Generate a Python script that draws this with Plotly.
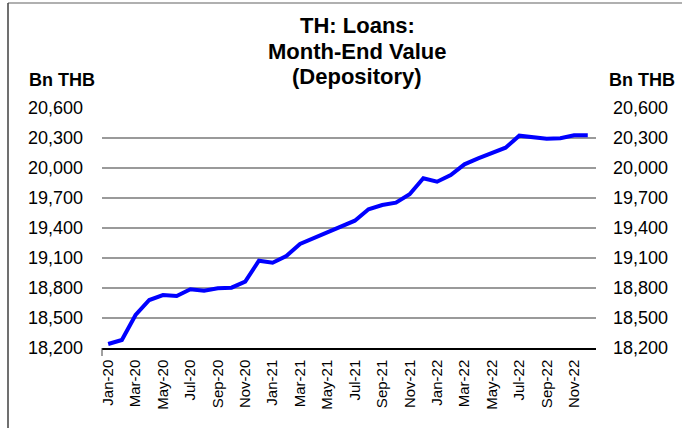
import plotly.graph_objects as go

months = ["Jan-20","Feb-20","Mar-20","Apr-20","May-20","Jun-20","Jul-20","Aug-20","Sep-20","Oct-20","Nov-20","Dec-20",
          "Jan-21","Feb-21","Mar-21","Apr-21","May-21","Jun-21","Jul-21","Aug-21","Sep-21","Oct-21","Nov-21","Dec-21",
          "Jan-22","Feb-22","Mar-22","Apr-22","May-22","Jun-22","Jul-22","Aug-22","Sep-22","Oct-22","Nov-22","Dec-22"]
loans = [18240, 18280, 18530, 18680, 18730, 18720, 18787, 18773, 18797, 18803, 18863, 19073,
         19053, 19120, 19240, 19297, 19363, 19420, 19473, 19587, 19630, 19653, 19737, 19897,
         19863, 19930, 20037, 20097, 20153, 20203, 20323, 20310, 20293, 20297, 20327, 20327]
y_ticks = [18200, 18500, 18800, 19100, 19400, 19700, 20000, 20300, 20600]
y_ticktext = [f"{v:,}" for v in y_ticks]
x_ticks = months[::2]
title_lines = ["TH: Loans:", "Month-End Value", "(Depository)"]
unit_label = "Bn THB"

font = "Liberation Sans, Arial, sans-serif"

W, H = 682, 428
L, R, T, B = 102, 86, 108, 80
PW, PH = W - L - R, H - T - B


def px(x):
    return (x - L) / PW


def py(y):
    return 1 - (y - T) / PH


fig = go.Figure()
fig.add_trace(go.Scatter(x=months, y=loans, mode="lines",
                         line=dict(color="#0000FF", width=4), showlegend=False,
                         hoverinfo="x+y"))
fig.add_trace(go.Scatter(x=months, y=loans, mode="lines", yaxis="y2",
                         line=dict(color="rgba(0,0,0,0)", width=0), showlegend=False,
                         hoverinfo="skip"))

annotations = []
for line, yc in zip(title_lines, [26, 52, 76]):
    annotations.append(dict(text=f"<b>{line}</b>", xref="paper", yref="paper",
                            x=px(357), y=py(yc), xanchor="center", yanchor="middle",
                            showarrow=False, font=dict(size=22, family=font)))
annotations.append(dict(text=f"<b>{unit_label}</b>", xref="paper", yref="paper",
                        x=px(62), y=py(80), xanchor="center", yanchor="middle",
                        showarrow=False, font=dict(size=18, family=font)))
annotations.append(dict(text=f"<b>{unit_label}</b>", xref="paper", yref="paper",
                        x=px(642), y=py(80), xanchor="center", yanchor="middle",
                        showarrow=False, font=dict(size=18, family=font)))

fig.update_layout(
    width=W, height=H,
    margin=dict(l=L, r=R, t=T, b=B, autoexpand=False),
    paper_bgcolor="white", plot_bgcolor="white",
    font=dict(family=font, color="black", size=18),
    xaxis=dict(type="category", tickvals=x_ticks, ticktext=x_ticks, tickangle=-90,
               tickfont=dict(size=15), showgrid=False, showline=True, linecolor="black",
               linewidth=1.5, ticks="", range=[-0.45, 35.6], ticklabelstandoff=4,
               automargin=False),
    yaxis=dict(range=[18200, 20600], tickvals=y_ticks, ticktext=y_ticktext,
               showgrid=True, gridcolor="#9a9a9a", gridwidth=2, zeroline=False,
               showline=False, ticks="", ticklabelstandoff=18, tickfont=dict(size=18),
               automargin=False),
    yaxis2=dict(range=[18200, 20600], tickvals=y_ticks, ticktext=y_ticktext,
                overlaying="y", side="right", showgrid=False, zeroline=False,
                showline=False, ticks="", ticklabelstandoff=16, tickfont=dict(size=18),
                automargin=False),
    annotations=annotations,
    shapes=[
        dict(type="line", xref="paper", yref="paper", x0=px(8), x1=px(682), y0=py(3), y1=py(3),
             line=dict(color="#b0b0b0", width=2)),
        dict(type="line", xref="paper", yref="paper", x0=px(8), x1=px(8), y0=py(3), y1=py(428),
             line=dict(color="#404040", width=1.5)),
        dict(type="line", xref="paper", yref="paper", x0=0, x1=0, y0=0, y1=py(356),
             line=dict(color="#404040", width=1)),
    ],
)

fig.write_html("out.html", config={"displayModeBar": False},
               post_script="document.body.style.margin='0';")
